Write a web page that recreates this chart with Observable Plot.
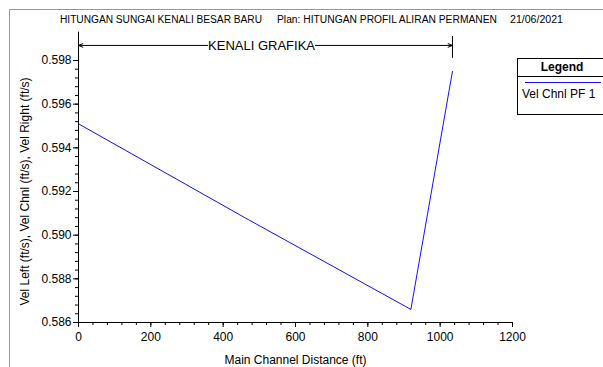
<!DOCTYPE html>
<html>
<head>
<meta charset="utf-8">
<script src="https://cdn.jsdelivr.net/npm/d3@7"></script>
<script src="https://cdn.jsdelivr.net/npm/@observablehq/plot@0.6"></script>
<style>
  html, body { margin: 0; padding: 0; background: white; }
  #chart { width: 603px; height: 367px; overflow: hidden; }
</style>
</head>
<body>
<div id="chart"></div>
<script>
// ---- data ----
const distance = [0, 460, 919, 1034];
const velChnl = [0.5951, 0.5908, 0.5866, 0.5975];
const xMajorTicks = [0, 200, 400, 600, 800, 1000, 1200];
const xMinorTicks = d3.range(0, 1201, 40);
const yMajorTicks = [0.586, 0.588, 0.590, 0.592, 0.594, 0.596, 0.598];
const yMinorTicks = d3.range(0, 31).map(i => 0.586 + i * 0.0004);
const headerTexts = ["HITUNGAN SUNGAI KENALI BESAR BARU", "Plan: HITUNGAN PROFIL ALIRAN PERMANEN", "21/06/2021"];
const reachLabel = "KENALI GRAFIKA";
const reachStart = 0, reachEnd = 1034;
const legendTitle = "Legend";
const seriesName = "Vel Chnl PF 1";
const xLabel = "Main Channel Distance (ft)";
const yLabel = "Vel Left (ft/s), Vel Chnl (ft/s), Vel Right (ft/s)";

const data = distance.map((d, i) => ({x: d, v: velChnl[i]}));
const reachMid = 506;
const halfText = 149;
const yBracket = 0.59869;
const FONT = "'Liberation Sans', Arial, sans-serif";

const plot = Plot.plot({
  width: 603,
  height: 367,
  marginLeft: 78,
  marginRight: 91,
  marginTop: 60,
  marginBottom: 45,
  style: {fontFamily: FONT, fontSize: "12px", background: "white", color: "black", overflow: "visible"},
  x: {domain: [0, 1200]},
  y: {domain: [0.586, 0.598]},
  marks: [
    Plot.axisX({ticks: xMinorTicks, tickSize: 3, tickFormat: () => "", label: null}),
    Plot.axisX({ticks: xMajorTicks, tickSize: 5, tickPadding: 5, tickFormat: d => String(d),
      label: xLabel, labelAnchor: "center", labelOffset: 41, labelArrow: "none"}),
    Plot.axisY({ticks: yMinorTicks, tickSize: 3, tickFormat: () => "", label: null}),
    Plot.axisY({ticks: yMajorTicks, tickSize: 5, tickPadding: 2, tickFormat: d3.format(".3f"),
      label: yLabel, labelAnchor: "center", labelOffset: 58, labelArrow: "none"}),
    Plot.ruleX([0], {y1: 0.586, y2: 0.5993, stroke: "black"}),
    Plot.ruleY([0.586], {x1: 0, x2: 1200, stroke: "black"}),
    Plot.ruleX([reachEnd], {y1: 0.5981, y2: 0.5991, stroke: "black"}),
    Plot.arrow([{a: reachMid - halfText, b: reachStart}, {a: reachMid + halfText, b: reachEnd}], {
      x1: "a", x2: "b", y1: () => yBracket, y2: () => yBracket,
      stroke: "black", strokeWidth: 1, headLength: 7, headAngle: 45, bend: false
    }),
    Plot.text([reachLabel], {x: reachMid, y: yBracket, text: d => d, fill: "black", fontSize: 13}),
    Plot.line(data, {x: "x", y: "v", stroke: "#1010ff", strokeWidth: 1})
  ]
});

document.getElementById("chart").appendChild(plot);

// Decorations: frame border, header, legend
const svg = d3.select(plot);
svg.append("path").attr("d", "M9.5,367V9.5H603").attr("fill", "none").attr("stroke", "#999").attr("stroke-width", 1);

const hdr = [
  {t: headerTexts[0], x: 60, w: 202},
  {t: headerTexts[1], x: 277, w: 220},
  {t: headerTexts[2], x: 510, w: 53}
];
svg.selectAll("text.hdr").data(hdr).join("text")
  .attr("class", "hdr")
  .attr("x", d => d.x).attr("y", 23)
  .attr("text-anchor", "start")
  .attr("textLength", d => d.w).attr("lengthAdjust", "spacingAndGlyphs")
  .attr("font-size", 10).attr("font-family", FONT)
  .attr("fill", "black").text(d => d.t);

const lg = svg.append("g").attr("text-anchor", "start");
lg.append("rect").attr("x", 517.5).attr("y", 58.5).attr("width", 90).attr("height", 56)
  .attr("fill", "white").attr("stroke", "black");
lg.append("line").attr("x1", 517.5).attr("x2", 607).attr("y1", 76.5).attr("y2", 76.5).attr("stroke", "black");
lg.append("text").attr("x", 562).attr("y", 71).attr("text-anchor", "middle")
  .attr("font-weight", "bold").attr("font-size", 12).attr("font-family", FONT)
  .text(legendTitle);
lg.append("line").attr("x1", 525).attr("x2", 601).attr("y1", 82.5).attr("y2", 82.5).attr("stroke", "#1010ff");
lg.append("text").attr("x", 522).attr("y", 98).attr("text-anchor", "start").attr("font-size", 12)
  .attr("font-family", FONT).text(seriesName);
</script>
</body>
</html>
